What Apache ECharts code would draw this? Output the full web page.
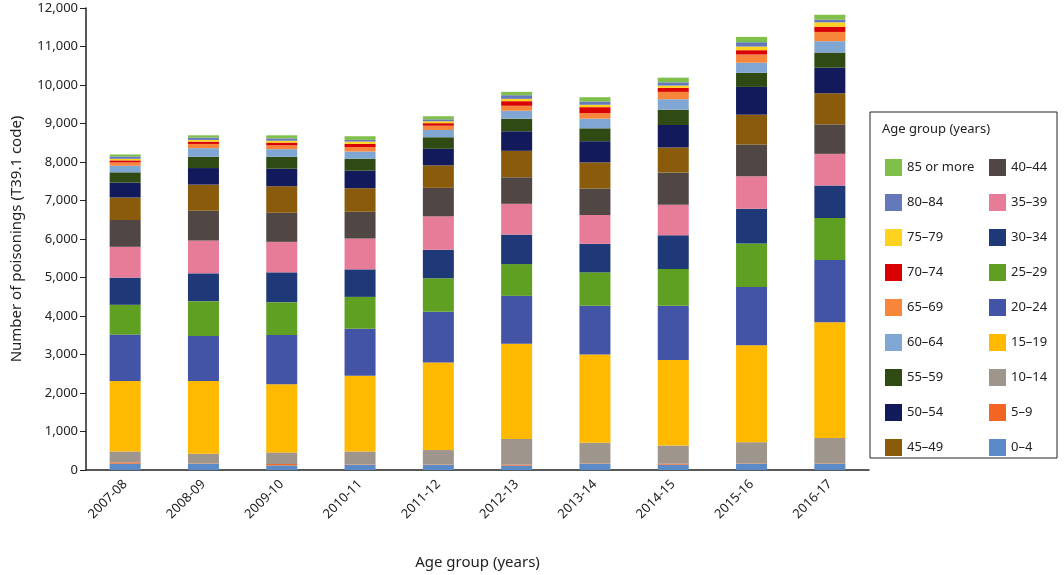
<!DOCTYPE html>
<html><head><meta charset="utf-8">
<script src="https://cdn.jsdelivr.net/npm/echarts@6/dist/echarts.min.js"></script>
<style>html,body{margin:0;padding:0;background:#fff}#c{width:1064px;height:575px}</style>
</head><body><div id="c"></div>
<script>
const categories = ['2007-08','2008-09','2009-10','2010-11','2011-12','2012-13','2013-14','2014-15','2015-16','2016-17'];
const groups = ['0–4','5–9','10–14','15–19','20–24','25–29','30–34','35–39','40–44','45–49','50–54','55–59','60–64','65–69','70–74','75–79','80–84','85 or more'];
const colors = ['#5b8bc6','#f26522','#9e958c','#ffb900','#4353a5','#5fa023','#1f3877','#e77c99','#504745','#895b0a','#131a5c','#2f4a13','#80a7d3','#f7863a','#d90000','#ffd21f','#6478bb','#7fbf4a'];
// values per year (rows) for each age group (columns, in order of groups)
const y2007 = [163,35,284,1832,1203,774,706,800,696,584,388,267,171,87,52,42,61,51];
const y2008 = [163,10,248,1893,1169,903,722,852,774,679,430,292,224,110,60,45,60,60];
const y2009 = [120,35,302,1770,1282,851,774,792,756,689,455,309,198,100,70,50,60,80];
const y2010 = [138,10,334,1969,1220,826,715,799,697,611,455,310,189,112,86,60,43,95];
const y2011 = [138,10,370,2271,1323,869,740,868,740,584,430,300,190,110,65,50,50,80];
const y2012 = [112,26,670,2469,1247,825,766,799,689,687,508,327,207,129,119,61,93,88];
const y2013 = [163,10,532,2296,1264,869,741,748,686,681,550,335,250,145,155,62,85,111];
const y2014 = [138,25,473,2220,1409,955,877,792,834,654,584,397,273,191,103,60,85,121];
const y2015 = [163,10,549,2521,1512,1127,903,844,825,775,722,369,258,215,111,95,113,137];
const y2016 = [163,10,661,3002,1616,1093,842,825,766,808,663,395,294,240,137,113,68,129];
const yearRows = [y2007,y2008,y2009,y2010,y2011,y2012,y2013,y2014,y2015,y2016];
const yTicks = [0,1000,2000,3000,4000,5000,6000,7000,8000,9000,10000,11000,12000];

const series = groups.map((g,i)=>({
  name:g, type:'bar', stack:'s', barWidth:31,
  itemStyle:{color:colors[i]},
  data: yearRows.map(r=>r[i])
}));
const leftNames = groups.slice(9).reverse();   // 85 or more ... 45–49
const rightNames = groups.slice(0,9).reverse(); // 40–44 ... 0–4
const legendBase = {orient:'vertical', itemWidth:17, itemHeight:17, itemGap:18, icon:'rect',
  textStyle:{fontSize:13, color:'#222', fontFamily:'Noto Sans'}, top:154};
const chart = echarts.init(document.getElementById('c'));
chart.setOption({
  animation:false,
  textStyle:{fontFamily:'Noto Sans'},
  grid:{left:86, right:195, top:8, bottom:102},
  xAxis:{type:'category', data:categories,
    axisLine:{lineStyle:{color:'#222',width:1.5}}, axisTick:{show:false},
    axisLabel:{rotate:45, color:'#222', fontSize:13, margin:12},
    name:'Age group (years)', nameLocation:'middle', nameGap:85,
    nameTextStyle:{fontSize:15, color:'#222'}},
  yAxis:{type:'value', min:yTicks[0], max:yTicks[yTicks.length-1], interval:1000,
    splitLine:{show:false}, axisLine:{show:true, lineStyle:{color:'#222',width:1.5}},
    axisTick:{show:true, length:6, lineStyle:{color:'#222'}},
    axisLabel:{color:'#222', fontSize:13},
    name:'Number of poisonings (T39.1 code)', nameLocation:'middle', nameGap:62,
    nameTextStyle:{fontSize:15, color:'#222'}},
  legend:[
    Object.assign({}, legendBase, {left:880, data:leftNames}),
    Object.assign({}, legendBase, {left:984, data:rightNames})
  ],
  graphic:[
    {type:'rect', shape:{x:870, y:112, width:187, height:346}, style:{fill:'none', stroke:'#222', lineWidth:1}},
    {type:'text', left:882, top:123, style:{text:'Age group (years)', fontSize:13, fill:'#222', fontFamily:'Noto Sans'}}
  ],
  series: series
});
</script></body></html>
